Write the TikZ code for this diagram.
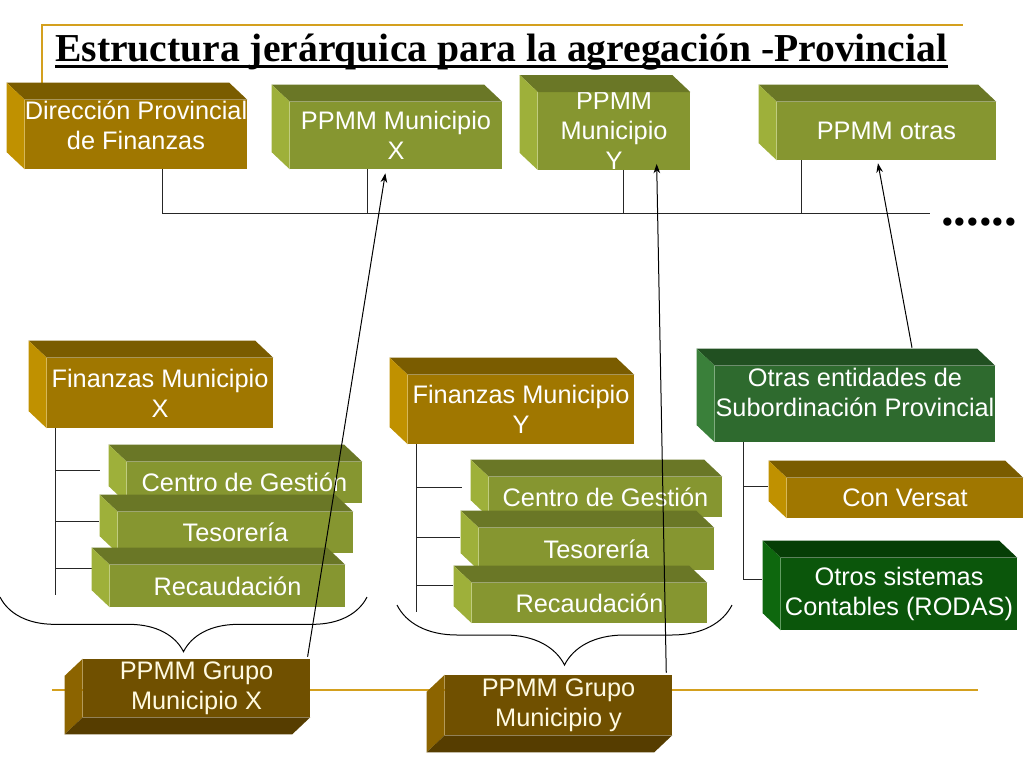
\documentclass[tikz,border=0pt]{standalone}
\usepackage{fontspec}
\setmainfont{Liberation Sans}
\newfontfamily\titulo{Liberation Serif}
\usetikzlibrary{arrows.meta,decorations.pathreplacing}

\definecolor{oro}{RGB}{212,160,30}
\definecolor{ocre}{RGB}{160,119,0}
\definecolor{ocreT}{RGB}{122,92,0}
\definecolor{ocreL}{RGB}{192,145,0}
\definecolor{oliva}{RGB}{134,150,48}
\definecolor{olivaT}{RGB}{106,119,38}
\definecolor{olivaL}{RGB}{158,176,58}
\definecolor{verde}{RGB}{46,106,46}
\definecolor{verdeT}{RGB}{33,80,33}
\definecolor{verdeL}{RGB}{58,128,58}
\definecolor{verdeosc}{RGB}{11,86,11}
\definecolor{verdeoscT}{RGB}{6,62,6}
\definecolor{verdeoscL}{RGB}{14,104,14}
\definecolor{marron}{RGB}{112,80,0}
\definecolor{marronB}{RGB}{86,61,0}
\definecolor{marronL}{RGB}{140,100,0}
\definecolor{crema}{RGB}{255,250,225}

\tikzset{
  rotulo/.style={text=white, align=center, font=\fontsize{19}{22.5}\selectfont},
  caja/.style={rectangle, fill=#1, inner sep=0pt, rotulo},
  tam/.style 2 args={minimum width=#1*0.75pt, minimum height=#2*0.75pt},
  linea/.style={black!85, line width=0.75pt},
  llave/.style={black, line width=0.75pt, decorate, decoration={brace, mirror, amplitude=#1}},
  flecha/.style={black, line width=0.75pt, -{Stealth[length=7pt,width=5pt]}},
}

\begin{document}
\begin{tikzpicture}[x=0.75pt,y=-0.75pt]
		\useasboundingbox (0,0) rectangle (1024,768);
		% marco
		\draw[oro, line width=1.5pt] (42,85) -- (42,25) -- (963,25);
		\draw[oro, line width=1.5pt] (52,690) -- (978,690);
		\node[anchor=base west, inner sep=0pt, font=\titulo\bfseries\fontsize{29.7}{34}\selectfont] (tit) at (55,61) {Estructura jerárquica para la agregación -Provincial};
		\draw[line width=2.2pt] ([yshift=-4pt]tit.base west) -- ([yshift=-4pt]tit.base east);

		% nivel provincial
		\node[caja=ocre, tam={222}{69}, label={[rotulo,yshift=7pt]center:{Dirección Provincial\\de Finanzas}}] (dpf) at (136,134.5) {};
		\node[caja=oliva, tam={212}{67}] (ppx) at (396,135.5) {PPMM Municipio\\X};
		\node[caja=oliva, tam={152}{76}] (ppy) at (614,131) {PPMM\\Municipio\\Y};
		\node[caja=oliva, tam={219}{58}] (ppo) at (886.5,131) {PPMM otras};
		\node[inner sep=0pt, anchor=west, font=\titulo\bfseries\fontsize{38}{40}\selectfont] (pts) at (941,222) {......};
		\coordinate (fin) at (930,213);
		\draw[linea] (dpf.south -| 162,0) |- (fin);
		\foreach \n/\x in {ppx/367, ppy/623, ppo/801}
			\draw[linea] (\n.south -| \x,0) -- (fin -| \x,0);

		% municipios y otras entidades
		\node[caja=ocre, tam={226}{70}] (fmx) at (160,393) {Finanzas Municipio\\X};
		\node[caja=oliva, tam={235}{41}] (cgx) at (244.5,482.5) {Centro de Gestión};
		\node[caja=oliva, tam={235}{41}] (tsx) at (235.5,532.5) {Tesorería};
		\node[caja=oliva, tam={235}{42}] (rcx) at (227.5,586) {Recaudación};
		\node[caja=ocre, tam={226}{69}] (fmy) at (521,409.5) {Finanzas Municipio\\Y};
		\node[caja=oliva, tam={233}{40}] (cgy) at (605.5,497) {Centro de Gestión};
		\node[caja=oliva, tam={235}{42}] (tsy) at (596.5,549) {Tesorería};
		\node[caja=oliva, tam={235}{40}] (rcy) at (589.5,603) {Recaudación};
		\node[caja=verde, tam={280}{76}, label={[rotulo,yshift=9pt]center:{Otras entidades de\\Subordinación Provincial}}] (oep) at (855,404) {};
		\node[caja=ocre, tam={236}{40}] (cvs) at (905,498) {Con Versat};
		\node[caja=verdeosc, tam={236}{72}] (osc) at (899,594) {Otros sistemas\\Contables (RODAS)};
		\node[caja=marron, tam={227}{58}, text=crema] (pgx) at (196.5,688) {PPMM Grupo\\Municipio X};
		\node[caja=marron, tam={227}{60}, text=crema] (pgy) at (558.5,705) {PPMM Grupo\\Municipio y};

		% ramas
		\draw[linea] (fmx.south -| 55,0) -- (55,595);
		\foreach \y/\x in {470/100, 521/99, 568/92}
			\draw[linea] (55,\y) -- (\x,\y);
		\draw[linea] (fmy.south -| 416,0) -- (416,612);
		\foreach \y/\x in {487/462, 537/460, 585/453}
			\draw[linea] (416,\y) -- (\x,\y);
		\draw[linea] (oep.south -| 743,0) -- (743,579) -- (762,579);
		\draw[linea] (743,486) -- (768,486);

		% caras de las cajas
		\foreach \n/\t/\l in {dpf/ocreT/ocreL, ppx/olivaT/olivaL, ppy/olivaT/olivaL, ppo/olivaT/olivaL,
				fmx/ocreT/ocreL, cgx/olivaT/olivaL, tsx/olivaT/olivaL, rcx/olivaT/olivaL,
				fmy/ocreT/ocreL, cgy/olivaT/olivaL, tsy/olivaT/olivaL, rcy/olivaT/olivaL,
				oep/verdeT/verdeL, cvs/ocreT/ocreL, osc/verdeoscT/verdeoscL}{
			\fill[\t] (\n.north west) -- ++(-18,-17) -- ([shift={(-18,-17)}]\n.north east) -- (\n.north east) -- cycle;
			\fill[\l] (\n.north west) -- ++(-18,-17) -- ([shift={(-18,-17)}]\n.south west) -- (\n.south west) -- cycle;
		}
		\foreach \n in {pgx, pgy}{
			\fill[marronL] (\n.north west) -- ++(-18,17) -- ([shift={(-18,17)}]\n.south west) -- (\n.south west) -- cycle;
			\fill[marronB] (\n.south west) -- ++(-18,17) -- ([shift={(-18,17)}]\n.south east) -- (\n.south east) -- cycle;
		}

		% llaves
		\draw[llave=41pt] (0,597) -- (367,597);
		\draw[llave=45pt] (397,605) -- (732,605);

		% flechas
		\draw[flecha] ([xshift=-2pt,yshift=1.5pt]pgx.north east) -- ([xshift=-8pt,yshift=-3pt]ppx.south);
		\draw[flecha] ([xshift=-4.5pt,yshift=1.5pt]pgy.north east) -- ([xshift=32pt,yshift=4.5pt]ppy.south);
		\draw[flecha] ([xshift=42.75pt,yshift=13.5pt]oep.north) -- ([xshift=-6.4pt,yshift=-2.25pt]ppo.south);
\end{tikzpicture}
\end{document}
